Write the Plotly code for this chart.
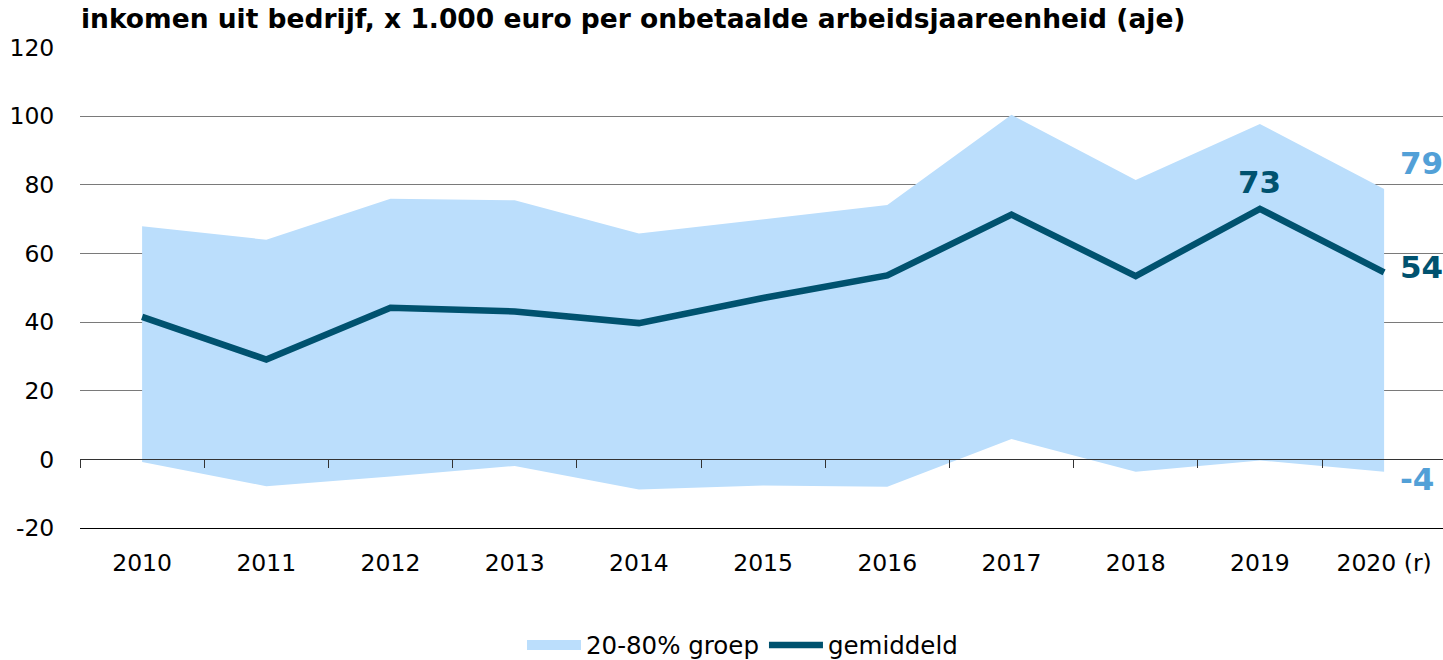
import plotly.graph_objects as go

years = ["2010", "2011", "2012", "2013", "2014", "2015", "2016", "2017", "2018", "2019", "2020 (r)"]
gemiddeld = [41.5, 29.1, 44.2, 43.1, 39.7, 47.0, 53.6, 71.3, 53.4, 73.0, 54.5]
p80 = [67.9, 64.0, 75.9, 75.5, 65.8, 70.0, 74.1, 100.4, 81.4, 97.7, 78.8]
p20 = [-0.8, -7.8, -5.0, -1.9, -8.8, -7.6, -8.0, 5.9, -3.6, -0.3, -3.6]
y_tickvals = [-20, 0, 20, 40, 60, 80, 100, 120]
y_ticktext = ["-20", "0", "20", "40", "60", "80", "100", "120"]

band_color = "#bbdefc"
line_color = "#00526f"
label_light = "#52a0d7"
FONT = "DejaVu Sans"

fig = go.Figure()
fig.add_trace(go.Scatter(x=years, y=p20, mode="lines", line=dict(width=0, color=band_color),
                         showlegend=False, hoverinfo="skip"))
fig.add_trace(go.Scatter(x=years, y=p80, mode="lines", line=dict(width=0, color=band_color),
                         fill="tonexty", fillcolor=band_color, name="20-80% groep",
                         showlegend=False))
# legend entry for the band (thick swatch)
fig.add_trace(go.Scatter(x=[None], y=[None], mode="lines", line=dict(width=15, color=band_color),
                         name="20-80% groep", hoverinfo="skip"))
fig.add_trace(go.Scatter(x=years, y=gemiddeld, mode="lines",
                         line=dict(width=6.5, color=line_color), name="gemiddeld"))
# invisible helper trace for the bottom label axis
fig.add_trace(go.Scatter(x=years, y=gemiddeld, mode="lines", xaxis="x2",
                         line=dict(width=0), opacity=0, showlegend=False, hoverinfo="skip"))

xr = [-0.5, -0.5 + 1363 / 124.2]
ymin, ymax = -20, 120.15

fig.update_layout(
    width=1443, height=660,
    margin=dict(l=80, r=0, t=47, b=132, autoexpand=False),
    paper_bgcolor="white", plot_bgcolor="white",
    font=dict(family=FONT, size=23, color="black"),
    title=dict(text="<b>inkomen uit bedrijf, x 1.000 euro per onbetaalde arbeidsjaareenheid (aje)</b>",
               font=dict(family=FONT, size=26.5, color="black"),
               x=81 / 1443, xanchor="left", xref="container",
               y=1 - 19 / 660, yanchor="middle", yref="container"),
    xaxis=dict(type="category", categoryorder="array", categoryarray=years, range=xr,
               anchor="free", position=(0 - ymin) / (ymax - ymin),
               showline=True, linecolor="#333333", linewidth=1,
               ticks="outside", ticklen=8, tickcolor="#333333", tickwidth=1,
               tickson="boundaries", showticklabels=False, showgrid=False,
               layer="above traces", automargin=False),
    xaxis2=dict(type="category", categoryorder="array", categoryarray=years, range=xr,
                overlaying="x", anchor="y", side="bottom",
                showline=True, linecolor="black", linewidth=1,
                ticks="outside", ticklen=14, tickcolor="rgba(0,0,0,0)",
                showgrid=False, tickfont=dict(family=FONT, size=23.5, color="black"),
                layer="above traces", automargin=False),
    yaxis=dict(range=[ymin, ymax], tickmode="array", tickvals=y_tickvals, ticktext=y_ticktext,
               showgrid=True, gridcolor="#7a7a7a",
               gridwidth=1.3, zeroline=False, showline=False,
               ticks="outside", ticklen=20, tickcolor="rgba(0,0,0,0)",
               tickfont=dict(family=FONT, size=23.5, color="black"), automargin=False),
    legend=dict(orientation="h", x=522 / 1443, xanchor="left", xref="container",
                y=1 - 645 / 660, yanchor="middle", yref="container", traceorder="normal",
                font=dict(family=FONT, size=24.5, color="black"), itemwidth=54,
                bgcolor="rgba(0,0,0,0)"),
    showlegend=True,
)

last_i = len(years) - 1
prev_i = len(years) - 2
fig.add_annotation(x=last_i, y=p80[-1], text=f"<b>{round(p80[-1])}</b>", showarrow=False,
                   xanchor="left", yanchor="middle", xshift=14, yshift=26,
                   font=dict(family=FONT, size=31, color=label_light))
fig.add_annotation(x=last_i, y=p20[-1], text=f"<b>{round(p20[-1])}</b>", showarrow=False,
                   xanchor="left", yanchor="middle", xshift=14, yshift=-7,
                   font=dict(family=FONT, size=31, color=label_light))
fig.add_annotation(x=last_i, y=gemiddeld[-1], text=f"<b>{int(gemiddeld[-1])}</b>", showarrow=False,
                   xanchor="left", yanchor="middle", xshift=14, yshift=5,
                   font=dict(family=FONT, size=31, color=line_color))
fig.add_annotation(x=prev_i, y=gemiddeld[-2], text=f"<b>{round(gemiddeld[-2])}</b>", showarrow=False,
                   xanchor="center", yanchor="middle", yshift=27,
                   font=dict(family=FONT, size=31, color=line_color))

fig.write_html("out.html", config={"displayModeBar": False},
               post_script="document.body.style.margin='0px';document.body.style.overflow='hidden';")
